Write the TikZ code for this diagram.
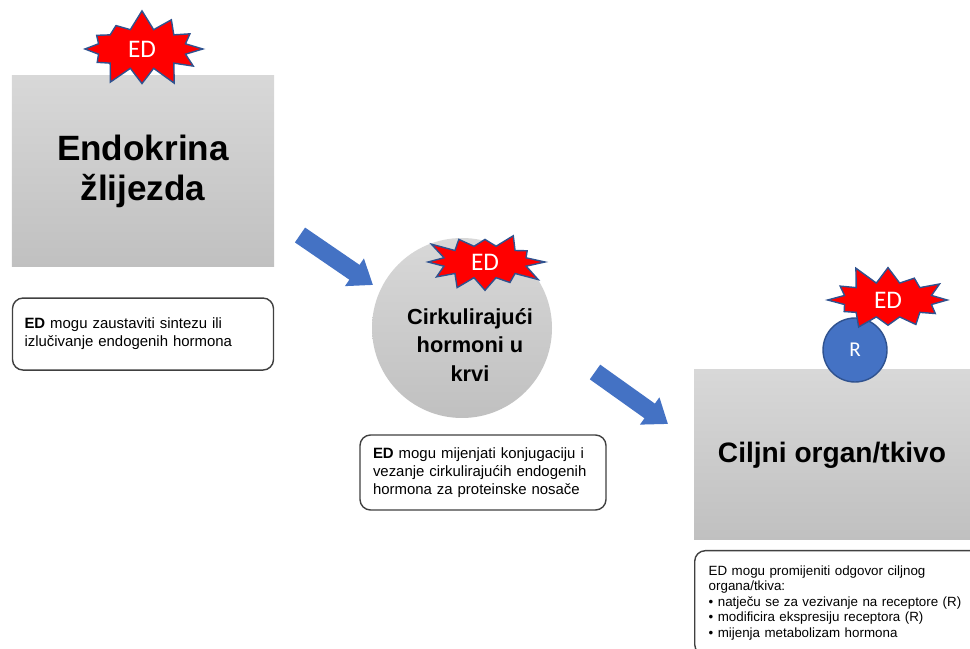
\documentclass[tikz,border=0pt]{standalone}
\usepackage{fontspec}
\setmainfont{Liberation Sans}
\newfontfamily\edfont{Carlito}
\usepackage{tikz}
\usetikzlibrary{shapes.symbols, arrows.meta, positioning}
\usepackage{xcolor}
\definecolor{edred}{HTML}{FF0000}
\definecolor{edblue}{HTML}{2F528F}
\definecolor{arrblue}{HTML}{4472C4}
\definecolor{boxtop}{HTML}{D8D8D8}
\definecolor{boxbot}{HTML}{C0C0C0}

\begin{document}
\begin{tikzpicture}[
    node distance=0.3cm,
    organ/.style={rectangle, top color=boxtop, bottom color=boxbot, draw=none,
                  align=center, font=\bfseries},
    burst/.style={starburst, starburst points=12, starburst point height=0.4cm,
                  fill=edred, draw=edblue, line width=0.8pt, inner sep=0pt,
                  text=white, font=\edfont\Large},
    note/.style={rectangle, rounded corners=6pt, draw=black!75, line width=0.8pt,
                 fill=white, align=left, font=\fontsize{8.5}{10.3}\selectfont},
    flow/.style={arrblue, line width=0.36cm,
                 -{Triangle[width=0.64cm, length=0.45cm]}},
]
\clip (0,0) rectangle (19.4,12.96);

% Gland
\node[organ, minimum width=5.24cm, minimum height=3.82cm,
      font=\bfseries\fontsize{20}{22.7}\selectfont] (gland) at (2.86,9.53)
    {Endokrina\\žlijezda};
\node[burst, random starburst=7, minimum width=2.6cm, minimum height=1.6cm]
    (burstA) at (2.84,11.98) {ED};
\node[note, text width=4.74cm, inner xsep=0.24cm, minimum height=1.44cm,
      below=0.6cm of gland] (noteA)
    {\textbf{ED} mogu zaustaviti sintezu ili\\izlučivanje endogenih hormona};

\coordinate (flowAs) at (6.0,8.26);
\coordinate (flowAe) at (7.46,7.26);
\draw[flow] (flowAs) -- (flowAe);

% Blood
\node[circle, minimum size=3.6cm, top color=boxtop, bottom color=boxbot]
    (blood) at (9.24,6.40) {};
\node[font=\bfseries\fontsize{12.4}{16.2}\selectfont, align=center]
    (bloodtxt) at ([xshift=0.16cm, yshift=-0.34cm]blood.center)
    {Cirkulirajući\\hormoni u\\krvi};
\node[burst, random starburst=3, minimum width=2.5cm, minimum height=1.45cm]
    (burstB) at (9.70,7.72) {ED};
\node[note, text width=4.4cm, inner xsep=0.26cm, minimum height=1.5cm]
    (noteB) at (9.66,3.51)
    {\textbf{ED} mogu mijenjati konjugaciju i\\vezanje cirkulirajućih endogenih\\hormona za proteinske nosače};

\coordinate (flowBs) at (11.9,5.52);
\coordinate (flowBe) at (13.36,4.48);
\draw[flow] (flowBs) -- (flowBe);

% Target
\node[organ, minimum width=5.52cm, minimum height=3.4cm,
      font=\bfseries\fontsize{16}{19}\selectfont] (target) at (16.64,3.86)
    {Ciljni organ/tkivo};
\node[circle, minimum size=1.28cm, fill=arrblue, draw=edblue, line width=0.8pt,
      text=white, font=\edfont\large] (rec) at (17.10,5.96) {R};
\node[burst, random starburst=11, minimum width=2.6cm, minimum height=1.5cm]
    (burstC) at (17.76,6.96) {ED};
\node[note, anchor=north west, text width=5.3cm, inner xsep=0.28cm, inner ysep=0.3cm,
      font=\fontsize{7.6}{8.8}\selectfont] (noteC) at (13.88,1.96)
    {ED mogu promijeniti odgovor ciljnog\\organa/tkiva:\\
     • natječu se za vezivanje na receptore (R)\\
     • modificira ekspresiju receptora (R)\\
     • mijenja metabolizam hormona};

\end{tikzpicture}
\end{document}
